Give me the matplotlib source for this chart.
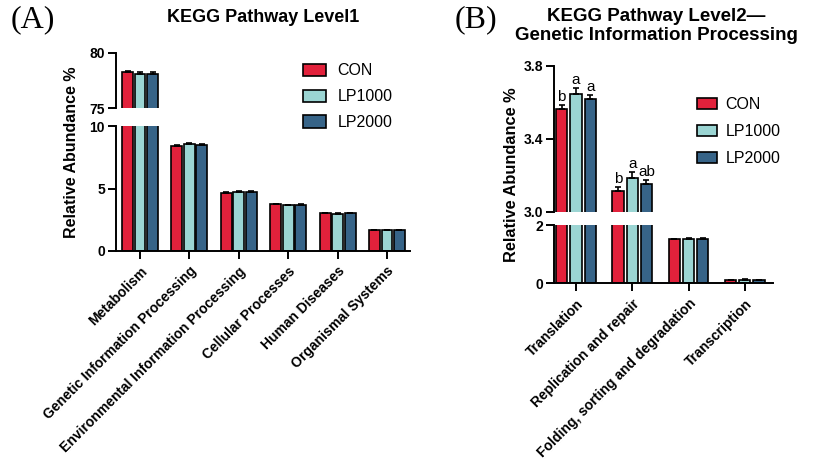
import numpy as np
import matplotlib
matplotlib.use('Agg')
import matplotlib.pyplot as plt

plt.rcParams['font.family'] = ['Liberation Sans', 'DejaVu Sans']

groups = ['CON', 'LP1000', 'LP2000']
colors = ['#E2213B', '#9BD5D3', '#376488']

# Panel A: KEGG level 1
cats_a = ['Metabolism', 'Genetic Information Processing', 'Environmental Information Processing',
          'Cellular Processes', 'Human Diseases', 'Organismal Systems']
con_a = [78.25, 8.40, 4.67, 3.73, 3.01, 1.68]
lp1000_a = [78.10, 8.55, 4.75, 3.65, 2.99, 1.68]
lp2000_a = [78.10, 8.48, 4.75, 3.68, 3.02, 1.68]
err_con_a = [0.15, 0.08, 0.08, 0.07, 0.04, 0.04]
err_lp1000_a = [0.15, 0.08, 0.07, 0.05, 0.04, 0.04]
err_lp2000_a = [0.15, 0.06, 0.08, 0.07, 0.04, 0.04]

# Panel B: level 2, Genetic Information Processing
cats_b = ['Translation', 'Replication and repair', 'Folding, sorting and degradation', 'Transcription']
con_b = [3.56, 3.115, 1.52, 0.11]
lp1000_b = [3.647, 3.185, 1.53, 0.13]
lp2000_b = [3.617, 3.150, 1.53, 0.12]
err_con_b = [0.022, 0.022, 0.02, 0.01]
err_lp1000_b = [0.033, 0.030, 0.02, 0.015]
err_lp2000_b = [0.020, 0.022, 0.02, 0.01]
letters_b = [['b', 'a', 'a'], ['b', 'a', 'ab']]

W, H = 814, 471
fig = plt.figure(figsize=(W / 100, H / 100), dpi=100)


def px_axes(x0, x1, y0, y1):
    # pixel box (top-left origin) -> figure axes
    return fig.add_axes([x0 / W, 1 - y1 / H, (x1 - x0) / W, (y1 - y0) / H])


def style(ax, bottom):
    for s in ['top', 'right']:
        ax.spines[s].set_visible(False)
    ax.spines['left'].set_linewidth(1.4)
    ax.spines['bottom'].set_linewidth(1.4)
    if not bottom:
        ax.spines['bottom'].set_visible(False)
        ax.tick_params(axis='x', bottom=False, labelbottom=False)
    ax.tick_params(width=1.4, length=6, labelsize=10)
    ax.tick_params(axis='y', pad=2)
    for lab in ax.get_yticklabels():
        lab.set_fontweight('bold')


def draw_bars(ax, data, errs, width, step):
    x = np.arange(len(data[0]))
    bars = []
    for i in range(3):
        b = ax.bar(x + (i - 1) * step, data[i], width, color=colors[i], edgecolor='black',
                   linewidth=1.2, label=groups[i], zorder=2)
        ax.errorbar(x + (i - 1) * step, data[i], yerr=[np.zeros(len(data[i])), errs[i]],
                    fmt='none', ecolor='black', elinewidth=1.2, capsize=2.5, capthick=1.2, zorder=3)
        bars.append(b)
    return x, bars


# ---- Panel A ----
data_a = [con_a, lp1000_a, lp2000_a]
errs_a = [err_con_a, err_lp1000_a, err_lp2000_a]
axA_top = px_axes(116, 410, 53, 108)
axA_bot = px_axes(116, 410, 126, 251)
for ax in (axA_top, axA_bot):
    x_a, bars_a = draw_bars(ax, data_a, errs_a, 0.22, 0.253)
    ax.set_xlim(-0.486, 5.466)
axA_top.set_ylim(75, 80)
axA_top.set_yticks([75, 80])
axA_bot.set_ylim(0, 10)
axA_bot.set_yticks([0, 5, 10])
axA_bot.set_xticks(x_a)
axA_bot.set_xticklabels(cats_a, rotation=45, ha='right', va='top', rotation_mode='anchor',
                        fontsize=13, fontweight='bold')
style(axA_top, False)
style(axA_bot, True)
axA_bot.legend(bars_a, groups, loc='upper left', bbox_to_anchor=(289 / W, 1 - 49 / H),
               bbox_transform=fig.transFigure, frameon=False, fontsize=11.5,
               handlelength=1.4, handleheight=0.8, labelspacing=0.68, handletextpad=0.75)

fig.text(71 / W, 1 - 152 / H, 'Relative Abundance %', rotation=90, ha='center', va='center',
         fontsize=11.5, fontweight='bold')
fig.text(263 / W, 1 - 17 / H, 'KEGG Pathway Level1', ha='center', va='center',
         fontsize=13, fontweight='bold')
fig.text(33 / W, 1 - 20 / H, '(A)', ha='center', va='center', fontsize=23,
         family=['Liberation Serif', 'DejaVu Serif'])

# ---- Panel B ----
data_b = [con_b, lp1000_b, lp2000_b]
errs_b = [err_con_b, err_lp1000_b, err_lp2000_b]
axB_top = px_axes(554, 773, 65.7, 211.7)
axB_bot = px_axes(554, 773, 225.3, 283.3)
for ax in (axB_top, axB_bot):
    x_b, bars_b = draw_bars(ax, data_b, errs_b, 0.2, 0.253)
    ax.set_xlim(-0.39, 3.5)
axB_top.set_ylim(3.0, 3.8)
axB_top.set_yticks([3.0, 3.4, 3.8])
axB_top.set_yticklabels(['3.0', '3.4', '3.8'])
axB_bot.set_ylim(0, 2)
axB_bot.set_yticks([0, 2])
axB_bot.set_xticks(x_b)
axB_bot.set_xticklabels(cats_b, rotation=45, ha='right', va='top', rotation_mode='anchor',
                        fontsize=13, fontweight='bold')
style(axB_top, False)
style(axB_bot, True)
for j, lets in enumerate(letters_b):
    for i in range(3):
        axB_top.text(j + (i - 1) * 0.253, data_b[i][j] + errs_b[i][j] + 0.006, lets[i],
                     ha='center', va='bottom', fontsize=11)
axB_bot.legend(bars_b, groups, loc='upper left', bbox_to_anchor=(683 / W, 1 - 83 / H),
               bbox_transform=fig.transFigure, frameon=False, fontsize=11.5,
               handlelength=1.25, handleheight=0.7, labelspacing=0.75, handletextpad=0.5)

fig.text(512 / W, 1 - 175 / H, 'Relative Abundance %', rotation=90, ha='center', va='center',
         fontsize=11.8, fontweight='bold')
fig.text(656 / W, 1 - 26 / H, 'KEGG Pathway Level2\u2014\nGenetic Information Processing',
         ha='center', va='center', fontsize=13.5, fontweight='bold', linespacing=1.08)
fig.text(476 / W, 1 - 20 / H, '(B)', ha='center', va='center', fontsize=23,
         family=['Liberation Serif', 'DejaVu Serif'])

fig.savefig('out.png', dpi=100)
